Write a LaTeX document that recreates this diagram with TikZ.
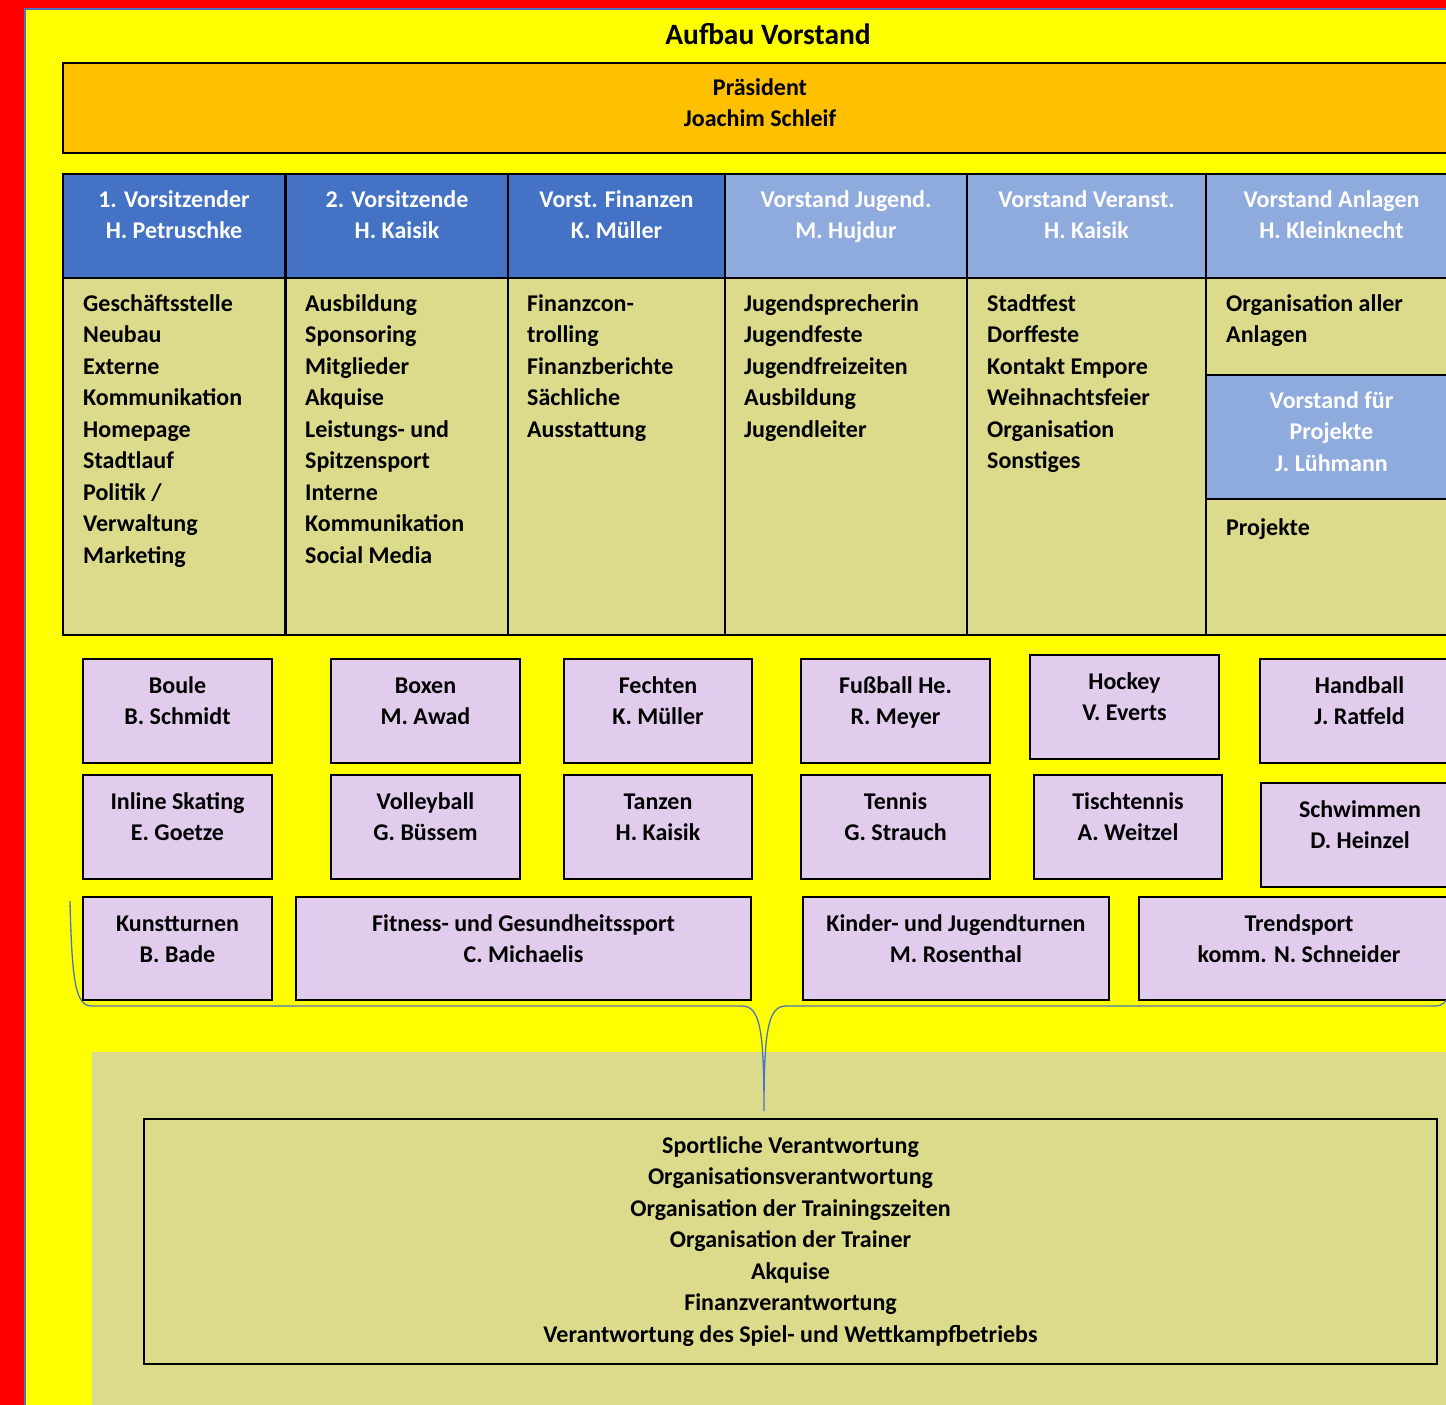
\documentclass[tikz,border=0pt]{standalone}
\usepackage{fontspec}
\setmainfont{Carlito}

\definecolor{rahmenrot}{HTML}{FF0000}
\definecolor{grundgelb}{HTML}{FFFF00}
\definecolor{praesorange}{HTML}{FFC000}
\definecolor{kopfdunkel}{HTML}{4472C4}
\definecolor{kopfhell}{HTML}{8FAADC}
\definecolor{khaki}{HTML}{DCDA8B}
\definecolor{lila}{HTML}{E1CCEE}
\definecolor{klammer}{HTML}{4A74C0}

% Spartenkasten: Name, x1, y1, x2, y2, Text
\newcommand{\sparte}[6]{%
  \node[sparte, minimum width={#4-#2}, minimum height={#5-#3}] (#1) at (#2,#3) {};
  \node[anchor=north, align=center] (#1-txt) at ([yshift=-18pt]#1.north) {\vphantom{l}#6};
}
% Vorstandsspalte: Name, x1, x2, Kopffarbe, Kopftext
\newcommand{\kopf}[5]{%
  \node[kasten, fill=#4, minimum width={#3-#2}, minimum height=104] (#1) at (#2,173) {};
  \node[anchor=north, align=center, text=white] (#1-txt) at ([yshift=-17pt]#1.north) {\vphantom{l}#5};
}

\begin{document}
\begin{tikzpicture}[x=1pt, y=-1pt,
  every node/.style={font=\fontsize{24}{31.5}\selectfont\bfseries, inner sep=0pt},
  kasten/.style={draw=black, line width=2pt, anchor=north west, inner sep=0pt},
  sparte/.style={kasten, fill=lila},
  feld/.style={kasten, fill=khaki, minimum height=357},
  liste/.style={anchor=north west, align=left}]
  \clip (0,0) rectangle (1446,1405);
  \fill[rahmenrot] (0,0) rectangle (1446,1405);
  \draw[klammer, fill=grundgelb, line width=1.5pt] (25,9) rectangle (1470,1420);
  \fill[khaki] (92,1052) rectangle (1470,1420);

  \node[anchor=base, font=\fontsize{29.5}{33}\selectfont\bfseries] (titel) at (768,45) {Aufbau Vorstand};

  \node[kasten, fill=praesorange, minimum width=1394, minimum height=90] (praes) at (62,62) {};
  \node[anchor=north, align=center] (praes-txt) at ([yshift=-16pt]praes.north) {Präsident\\Joachim Schleif};

  % Vorstand
  \kopf{vors1}{62}{284}{kopfdunkel}{1. Vorsitzender\\H. Petruschke}
  \kopf{vors2}{285}{507}{kopfdunkel}{2. Vorsitzende\\H. Kaisik}
  \kopf{finanz}{507}{724}{kopfdunkel}{Vorst. Finanzen\\K. Müller}
  \kopf{jugend}{724}{966}{kopfhell}{Vorstand Jugend.\\M. Hujdur}
  \kopf{veranst}{966}{1205}{kopfhell}{Vorstand Veranst.\\H. Kaisik}
  \kopf{anlagen}{1205}{1456}{kopfhell}{Vorstand Anlagen\\H. Kleinknecht}

  \node[feld, minimum width=222] (vors1-feld) at (62,277) {};
  \node[feld, minimum width=222] (vors2-feld) at (285,277) {};
  \node[feld, minimum width=217] (finanz-feld) at (507,277) {};
  \node[feld, minimum width=242] (jugend-feld) at (724,277) {};
  \node[feld, minimum width=239] (veranst-feld) at (966,277) {};
  \node[feld, minimum width=251] (anlagen-feld) at (1205,277) {};
  \node[kasten, fill=kopfhell, minimum width=251, minimum height=124] (projekt) at (1205,374) {};

  \node[liste] at ([xshift=21pt,yshift=-17pt]vors1-feld.north west) {Geschäftsstelle\\Neubau\\Externe\\Kommunikation\\Homepage\\Stadtlauf\\Politik /\\Verwaltung\\Marketing};
  \node[liste] at ([xshift=20pt,yshift=-17pt]vors2-feld.north west) {Ausbildung\\Sponsoring\\Mitglieder\\Akquise\\Leistungs- und\\Spitzensport\\Interne\\Kommunikation\\Social Media};
  \node[liste] at ([xshift=20pt,yshift=-17pt]finanz-feld.north west) {Finanzcon-\\trolling\\Finanzberichte\\Sächliche\\Ausstattung};
  \node[liste] at ([xshift=20pt,yshift=-17pt]jugend-feld.north west) {Jugendsprecherin\\Jugendfeste\\Jugendfreizeiten\\Ausbildung\\Jugendleiter};
  \node[liste] at ([xshift=21pt,yshift=-17pt]veranst-feld.north west) {Stadtfest\\Dorffeste\\Kontakt Empore\\Weihnachtsfeier\\Organisation\\Sonstiges};
  \node[liste] at ([xshift=21pt,yshift=-17pt]anlagen-feld.north west) {Organisation aller\\Anlagen};
  \node[anchor=north, align=center, text=white] (projekt-txt) at ([yshift=-17pt]projekt.north) {Vorstand für\\Projekte\\J. Lühmann};
  \node[liste] at ([xshift=21pt,yshift=-18pt]projekt.south west) {Projekte};

  % Sparten
  \sparte{boule}{82}{658}{271}{762}{Boule\\B. Schmidt}
  \sparte{boxen}{330}{658}{519}{762}{Boxen\\M. Awad}
  \sparte{fechten}{563}{658}{751}{762}{Fechten\\K. Müller}
  \sparte{fussball}{800}{658}{989}{762}{Fußball He.\\R. Meyer}
  \sparte{hockey}{1029}{654}{1218}{758}{Hockey\\V. Everts}
  \sparte{handball}{1259}{658}{1458}{762}{Handball\\J. Ratfeld}
  \sparte{inline}{82}{774}{271}{878}{Inline Skating\\E. Goetze}
  \sparte{volley}{330}{774}{519}{878}{Volleyball\\G. Büssem}
  \sparte{tanzen}{563}{774}{751}{878}{Tanzen\\H. Kaisik}
  \sparte{tennis}{800}{774}{989}{878}{Tennis\\G. Strauch}
  \sparte{tischtennis}{1033}{774}{1221}{878}{Tischtennis\\A. Weitzel}
  \sparte{schwimmen}{1260}{782}{1458}{886}{Schwimmen\\D. Heinzel}
  \sparte{turnen}{82}{896}{271}{999}{Kunstturnen\\B. Bade}
  \sparte{fitness}{295}{896}{750}{999}{Fitness- und Gesundheitssport\\C. Michaelis}
  \sparte{kinder}{802}{896}{1108}{999}{Kinder- und Jugendturnen\\M. Rosenthal}
  \sparte{trend}{1138}{896}{1458}{999}{Trendsport\\komm. N. Schneider}

  % Klammer
  \coordinate (spitze) at (764,1111);
  \draw[klammer, line width=1.3pt] (70,901) .. controls (72,985) and (76,1006) .. (92,1006)
    -- (742,1006) .. controls (760,1006) and (764,1030) .. (spitze)
    .. controls (764,1030) and (768,1006) .. (786,1006) -- (1436,1006)
    .. controls (1442,1006) and (1446,1002) .. (1450,994);

  \node[kasten, fill=khaki, minimum width=1293, minimum height=245] (aufgaben) at (143,1118) {};
  \node[anchor=north, align=center] (aufgaben-txt) at ([yshift=-18pt]aufgaben.north) {Sportliche Verantwortung\\Organisationsverantwortung\\Organisation der Trainingszeiten\\Organisation der Trainer\\Akquise\\Finanzverantwortung\\Verantwortung des Spiel- und Wettkampfbetriebs};
\end{tikzpicture}
\end{document}
